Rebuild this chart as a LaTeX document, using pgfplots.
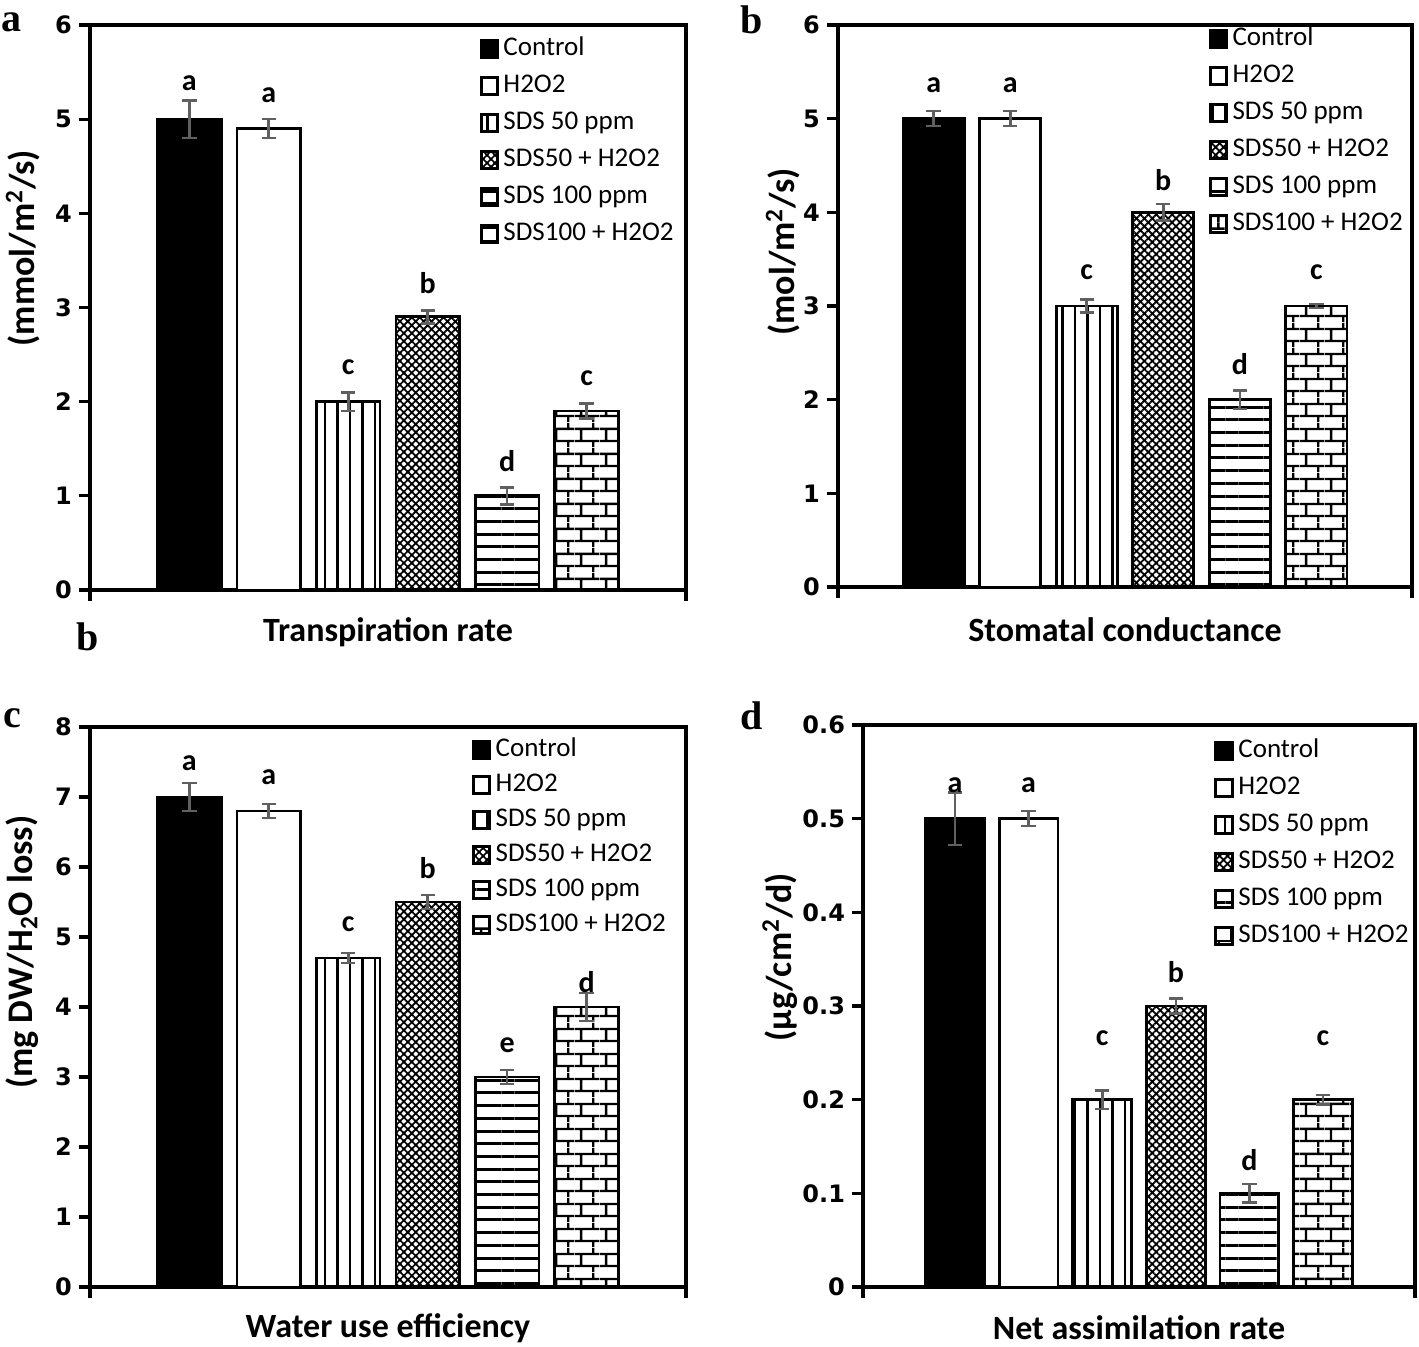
\documentclass[border=0pt]{standalone}
\usepackage{fontspec}
\setmainfont{Carlito}
\newfontfamily\tickfont{DejaVu Sans}
\newfontfamily\serifbold{Liberation Serif}
\usepackage{pgfplots}
\pgfplotsset{compat=1.18}
\usetikzlibrary{patterns,patterns.meta,calc}
\definecolor{errgray}{RGB}{96,96,96}

\tikzdeclarepattern{name=mybricks, type=uncolored,
  bounding box={(0pt,0pt) and (12.5pt,12.5pt)},
  tile size={(12.5pt,12.5pt)},
  code={\draw[line width=1.2pt] (0pt,3.125pt) -- (12.5pt,3.125pt) (0pt,9.375pt) -- (12.5pt,9.375pt)
        (3.125pt,3.125pt) -- (3.125pt,9.375pt) (9.375pt,9.375pt) -- (9.375pt,12.5pt) (9.375pt,0pt) -- (9.375pt,3.125pt);}}

\tikzset{
  lbl/.style={font=\bfseries\fontsize{15pt}{17pt}\selectfont, anchor=center},
  ttl/.style={font=\bfseries\fontsize{17pt}{20pt}\selectfont, anchor=center},
  ylab/.style={font=\bfseries\fontsize{18pt}{21pt}\selectfont, anchor=center, rotate=90},
  plet/.style={font=\serifbold\bfseries\fontsize{20pt}{22pt}\selectfont},
}

\pgfplotsset{
  panel/.style={
    scale only axis,
    axis line style={line width=1.6pt},
    tick align=outside,
    ytick pos=left, xtick pos=bottom,
    major tick length=5.5pt,
    every tick/.style={line width=1.6pt, black},
    xmin=-1.25, xmax=6.25, xtick={-1.25,6.25}, xticklabels={},
    ymin=0, clip=false,
    /pgf/number format/assume math mode=true,
    yticklabel style={font=\tickfont\bfseries\fontsize{12pt}{14pt}\selectfont},
    legend cell align=left,
    legend style={draw=none, fill=none, inner sep=0pt,
      font=\fontsize{13.5pt}{15pt}\selectfont,
      nodes={inner sep=0pt, text height=9.5pt, text depth=3pt},
      row sep=6pt},
    legend image code/.code={\draw[#1, line width=1.5pt] (0.7pt,-4.2pt) rectangle (9pt,4.2pt); \path (11.2pt,0pt);},
    /pgfplots/error bars/error bar style={line width=1.3pt, errgray},
    /pgfplots/error bars/error mark options={rotate=90, mark size=3.6pt, line width=1.3pt, errgray},
  },
  bp/.style={ybar, bar width=0.8, bar shift=0pt, draw=black, line width=1.4pt,
    /pgfplots/error bars/y dir=both, /pgfplots/error bars/y explicit},
  s1/.style={fill=black, bp},
  s2/.style={fill=white, bp},
  s3/.style={pattern={Lines[angle=90,distance=6.25pt,line width=1.2pt]}, bp},
  s4/.style={pattern={Hatch[angle=45,distance=2.8pt,line width=0.9pt]}, bp},
  s5/.style={pattern={Lines[angle=0,distance=6.35pt,line width=1.5pt]}, bp},
  s6/.style={pattern=mybricks, bp},
}

\begin{document}
\begin{tikzpicture}
\useasboundingbox (0,0) rectangle (709.5pt,673.5pt);

% ---------- panel a ----------
\begin{axis}[panel, at={(45pt,378.5pt)}, anchor=south west, width=298pt, height=282.5pt,
  ymax=6, ytick={0,1,2,3,4,5,6},
  legend style={at={(0.653,0.981)}, anchor=north west}]
\addplot[s1] coordinates {(0,5.0) +- (0,0.2)};
\addplot[s2] coordinates {(1,4.9) +- (0,0.1)};
\addplot[s3] coordinates {(2,2.0) +- (0,0.1)};
\addplot[s4] coordinates {(3,2.9) +- (0,0.07)};
\addplot[s5] coordinates {(4,1.0) +- (0,0.09)};
\addplot[s6] coordinates {(5,1.9) +- (0,0.08)};
\legend{Control,H2O2,SDS 50 ppm,SDS50 + H2O2,SDS 100 ppm,SDS100 + H2O2}
\node[lbl] at (axis cs:0,5.384) {a};
\node[lbl] at (axis cs:1,5.256) {a};
\node[lbl] at (axis cs:2,2.368) {c};
\node[lbl] at (axis cs:3,3.26) {b};
\node[lbl] at (axis cs:4,1.37) {d};
\node[lbl] at (axis cs:5,2.251) {c};
\node[ttl] at (rel axis cs:0.5,0) [yshift=-21pt] {Transpiration rate};
\node[ylab] at ($(rel axis cs:0,0.605)+(-33.5pt,0pt)$) {(mmol/m\textsuperscript{2}/s)};
\end{axis}

% ---------- panel b ----------
\begin{axis}[panel, at={(419pt,380pt)}, anchor=south west, width=287pt, height=281pt,
  ymax=6, ytick={0,1,2,3,4,5,6},
  legend style={at={(0.645,0.998)}, anchor=north west}]
\addplot[s1] coordinates {(0,5.0) +- (0,0.08)};
\addplot[s2] coordinates {(1,5.0) +- (0,0.08)};
\addplot[s3] coordinates {(2,3.0) +- (0,0.07)};
\addplot[s4] coordinates {(3,4.0) +- (0,0.09)};
\addplot[s5] coordinates {(4,2.0) +- (0,0.1)};
\addplot[s6] coordinates {(5,3.0) +- (0,0.02)};
\legend{Control,H2O2,SDS 50 ppm,SDS50 + H2O2,SDS 100 ppm,SDS100 + H2O2}
\node[lbl] at (axis cs:0,5.36) {a};
\node[lbl] at (axis cs:1,5.36) {a};
\node[lbl] at (axis cs:2,3.363) {c};
\node[lbl] at (axis cs:3,4.345) {b};
\node[lbl] at (axis cs:4,2.38) {d};
\node[lbl] at (axis cs:5,3.363) {c};
\node[ttl] at (rel axis cs:0.5,0) [yshift=-21.5pt] {Stomatal conductance};
\node[ylab] at ($(rel axis cs:0,0.596)+(-27.5pt,0pt)$) {(mol/m\textsuperscript{2}/s)};
\end{axis}

% ---------- panel c ----------
\begin{axis}[panel, at={(45pt,30pt)}, anchor=south west, width=298pt, height=280pt,
  ymax=8, ytick={0,1,2,3,4,5,6,7,8},
  legend style={at={(0.64,0.982)}, anchor=north west, row sep=5pt}]
\addplot[s1] coordinates {(0,7.0) +- (0,0.2)};
\addplot[s2] coordinates {(1,6.8) +- (0,0.1)};
\addplot[s3] coordinates {(2,4.7) +- (0,0.07)};
\addplot[s4] coordinates {(3,5.5) +- (0,0.1)};
\addplot[s5] coordinates {(4,3.0) +- (0,0.1)};
\addplot[s6] coordinates {(5,4.0) +- (0,0.2)};
\legend{Control,H2O2,SDS 50 ppm,SDS50 + H2O2,SDS 100 ppm,SDS100 + H2O2}
\node[lbl] at (axis cs:0,7.486) {a};
\node[lbl] at (axis cs:1,7.286) {a};
\node[lbl] at (axis cs:2,5.186) {c};
\node[lbl] at (axis cs:3,5.986) {b};
\node[lbl] at (axis cs:4,3.46) {e};
\node[lbl] at (axis cs:5,4.36) {d};
\node[ttl] at (rel axis cs:0.5,0) [yshift=-20.5pt] {Water use efficiency};
\node[ylab] at ($(rel axis cs:0,0.598)+(-34pt,0pt)$) {(mg DW/H\textsubscript{2}O loss)};
\end{axis}

% ---------- panel d ----------
\begin{axis}[panel, at={(431.5pt,30pt)}, anchor=south west, width=276pt, height=281pt,
  ymax=0.6, ytick={0,0.1,0.2,0.3,0.4,0.5,0.6},
  legend style={at={(0.636,0.977)}, anchor=north west}]
\addplot[s1] coordinates {(0,0.5) +- (0,0.028)};
\addplot[s2] coordinates {(1,0.5) +- (0,0.008)};
\addplot[s3] coordinates {(2,0.2) +- (0,0.01)};
\addplot[s4] coordinates {(3,0.3) +- (0,0.008)};
\addplot[s5] coordinates {(4,0.1) +- (0,0.01)};
\addplot[s6] coordinates {(5,0.2) +- (0,0.005)};
\legend{Control,H2O2,SDS 50 ppm,SDS50 + H2O2,SDS 100 ppm,SDS100 + H2O2}
\node[lbl] at (axis cs:0,0.536) {a};
\node[lbl] at (axis cs:1,0.536) {a};
\node[lbl] at (axis cs:2,0.266) {c};
\node[lbl] at (axis cs:3,0.336) {b};
\node[lbl] at (axis cs:4,0.1356) {d};
\node[lbl] at (axis cs:5,0.266) {c};
\node[ttl] at (rel axis cs:0.5,0) [yshift=-20.5pt] {Net assimilation rate};
\node[ylab] at ($(rel axis cs:0,0.587)+(-41.5pt,0pt)$) {(µg/cm\textsuperscript{2}/d)};
\end{axis}

% panel letters
\node[plet] at (6pt,662.5pt) {a};
\node[plet] at (376pt,663.5pt) {b};
\node[plet] at (6pt,314.5pt) {c};
\node[plet] at (376pt,315.5pt) {d};
\node[plet] at (44pt,355pt) {b};
\end{tikzpicture}
\end{document}
